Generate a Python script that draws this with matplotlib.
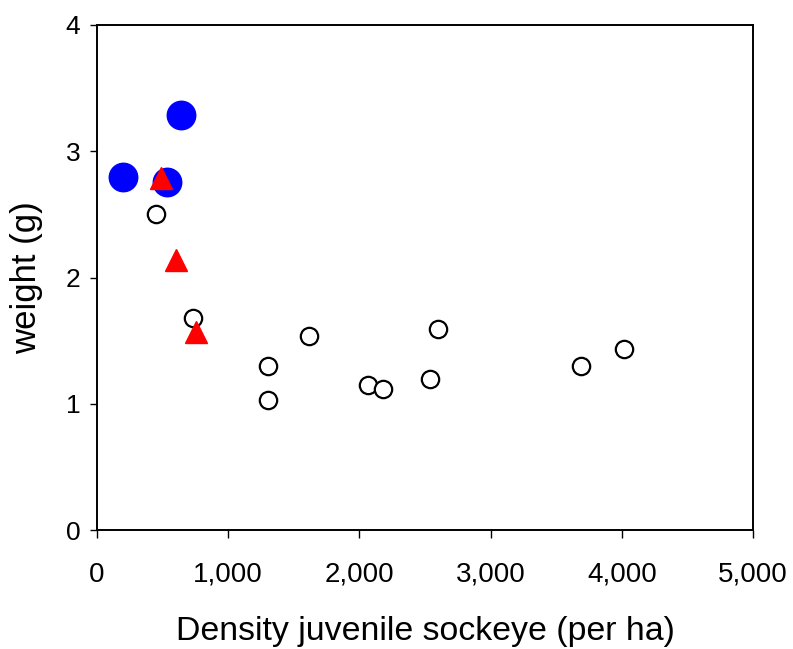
import matplotlib.pyplot as plt

plt.rcParams['font.family'] = ['Liberation Sans', 'DejaVu Sans']

# open circles
open_x = [450, 732, 1303, 1303, 1616, 2066, 2180, 2538, 2599, 3689, 4017]
open_y = [2.50, 1.68, 1.30, 1.03, 1.54, 1.15, 1.12, 1.20, 1.59, 1.30, 1.43]

# filled blue circles
blue_x = [198, 534, 640]
blue_y = [2.80, 2.76, 3.29]

# red triangles
red_x = [488, 602, 755]
red_y = [2.79, 2.14, 1.57]

x_ticks = [0, 1000, 2000, 3000, 4000, 5000]
x_labels = ['0', '1,000', '2,000', '3,000', '4,000', '5,000']
y_ticks = [0, 1, 2, 3, 4]

fig = plt.figure(figsize=(7.93, 6.49), dpi=100)
ax = fig.add_axes([97 / 793, 119 / 649, 656 / 793, 505 / 649])

ax.plot(open_x, open_y, 'o', ms=12.5, mfc='white', mec='black', mew=1.6,
        linestyle='none', zorder=3)
ax.plot(blue_x, blue_y, 'o', ms=20.5, mfc='#0000FF', mec='#0000FF',
        linestyle='none', zorder=4)
ax.plot(red_x, red_y, '^', ms=16, mfc='#FF0000', mec='#FF0000',
        linestyle='none', zorder=5)

ax.set_xlim(0, 5000)
ax.set_ylim(0, 4)
ax.set_xticks(x_ticks)
ax.set_xticklabels(x_labels)
ax.set_yticks(y_ticks)

ax.tick_params(axis='x', direction='out', length=6, width=1, labelsize=20, pad=17)
ax.tick_params(axis='y', direction='out', length=5, width=1, labelsize=19, pad=7)

for sp in ax.spines.values():
    sp.set_linewidth(1.4)

ax.set_xlabel('Density juvenile sockeye (per ha)', fontsize=24.4, labelpad=20.5)
ax.set_ylabel('weight (g)', fontsize=25, labelpad=16)

fig.savefig('out.png', dpi=100)
